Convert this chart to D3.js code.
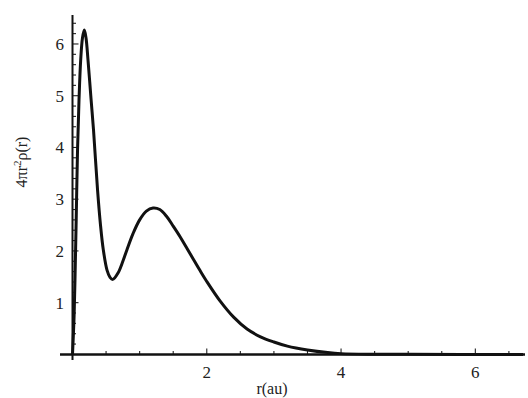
<!DOCTYPE html>
<html>
<head>
<meta charset="utf-8">
<script src="https://cdn.jsdelivr.net/npm/d3@7"></script>
<style>
  html, body { margin: 0; padding: 0; background: #fff; }
  svg { display: block; }
  svg text { font-family: "Liberation Serif", "DejaVu Serif", "Times New Roman", Times, serif; }
</style>
</head>
<body>
<svg id="chart" width="528" height="398"></svg>
<script>
// ---- data ----
const rValues = [0, 0.022, 0.037, 0.055, 0.075, 0.097, 0.122, 0.149, 0.176, 0.201, 0.231, 0.276, 0.313, 0.373, 0.417, 0.459, 0.514, 0.559, 0.60, 0.68, 0.75, 0.81, 0.90, 1.0, 1.1, 1.2, 1.3, 1.4, 1.5, 1.6, 1.7, 1.8, 1.9, 2.0, 2.2, 2.4, 2.6, 2.8, 3.0, 3.2, 3.5, 3.8, 4.0, 4.5, 5.0, 6.71];
const densityValues = [0, 0.67, 1.44, 2.6, 3.95, 4.92, 5.69, 6.12, 6.27, 6.12, 5.69, 4.94, 4.34, 3.18, 2.50, 2.02, 1.63, 1.49, 1.45, 1.58, 1.80, 2.02, 2.33, 2.60, 2.77, 2.83, 2.80, 2.67, 2.48, 2.28, 2.06, 1.84, 1.62, 1.41, 1.03, 0.72, 0.49, 0.34, 0.24, 0.16, 0.085, 0.035, 0.015, 0.004, 0.001, 0];
const xTickLabels = [2, 4, 6];
const yTickLabels = [1, 2, 3, 4, 5, 6];
const xLabel = "r(au)";
const yLabelParts = ["4πr", "2", "ρ(r)"];

const svg = d3.select("#chart");
const x = d3.scaleLinear().domain([0, 6.71]).range([72.5, 523]);
const y = d3.scaleLinear().domain([0, 6.56]).range([354.4, 15]);

const xMinor = d3.range(0.5, 6.71, 0.5);
const yMinor = d3.range(0.2, 6.56, 0.2);

const g = svg.append("g");

// x ticks (pointing up)
g.selectAll(".xt").data(xMinor).enter().append("line")
  .attr("x1", d => x(d)).attr("x2", d => x(d))
  .attr("y1", y(0)).attr("y2", d => y(0) - (Math.abs(d / 2 - Math.round(d / 2)) < 1e-6 ? 6 : 3.5))
  .attr("stroke", "#222").attr("stroke-width", 1.1);

// y ticks (pointing right)
g.selectAll(".yt").data(yMinor).enter().append("line")
  .attr("y1", d => y(d)).attr("y2", d => y(d))
  .attr("x1", x(0)).attr("x2", d => x(0) + (Math.abs(d - Math.round(d)) < 1e-6 ? 6 : 3.5))
  .attr("stroke", "#222").attr("stroke-width", 1.1);

// axes lines
g.append("line").attr("x1", 60).attr("x2", 525).attr("y1", y(0)).attr("y2", y(0))
  .attr("stroke", "#111").attr("stroke-width", 2.5);
g.append("line").attr("x1", x(0)).attr("x2", x(0)).attr("y1", 360).attr("y2", 15)
  .attr("stroke", "#111").attr("stroke-width", 2);

// tick labels
g.selectAll(".xl").data(xTickLabels).enter().append("text")
  .attr("x", d => x(d)).attr("y", 378)
  .attr("text-anchor", "middle").attr("font-size", 17)
  .attr("fill", "#222").text(d => d);
g.selectAll(".yl").data(yTickLabels).enter().append("text")
  .attr("x", 64).attr("y", d => y(d) + 6)
  .attr("text-anchor", "end").attr("font-size", 17)
  .attr("fill", "#222").text(d => d);

// axis titles
g.append("text").attr("x", 272).attr("y", 394).attr("text-anchor", "middle")
  .attr("font-size", 16).attr("fill", "#222").text(xLabel);
const yl = g.append("text").attr("transform", "translate(27,162) rotate(-90)")
  .attr("text-anchor", "middle").attr("font-size", 16).attr("fill", "#222");
yl.append("tspan").text(yLabelParts[0]);
yl.append("tspan").attr("dy", -6).attr("font-size", 11).text(yLabelParts[1]);
yl.append("tspan").attr("dy", 6).text(yLabelParts[2]);

// curve
const pts = rValues.map((r, i) => [r, densityValues[i]]);
const line = d3.line().x(d => x(d[0])).y(d => y(d[1])).curve(d3.curveCatmullRom.alpha(0.5));
g.append("path").datum(pts).attr("d", line)
  .attr("fill", "none").attr("stroke", "#111").attr("stroke-width", 3)
  .attr("stroke-linejoin", "round");
</script>
</body>
</html>
